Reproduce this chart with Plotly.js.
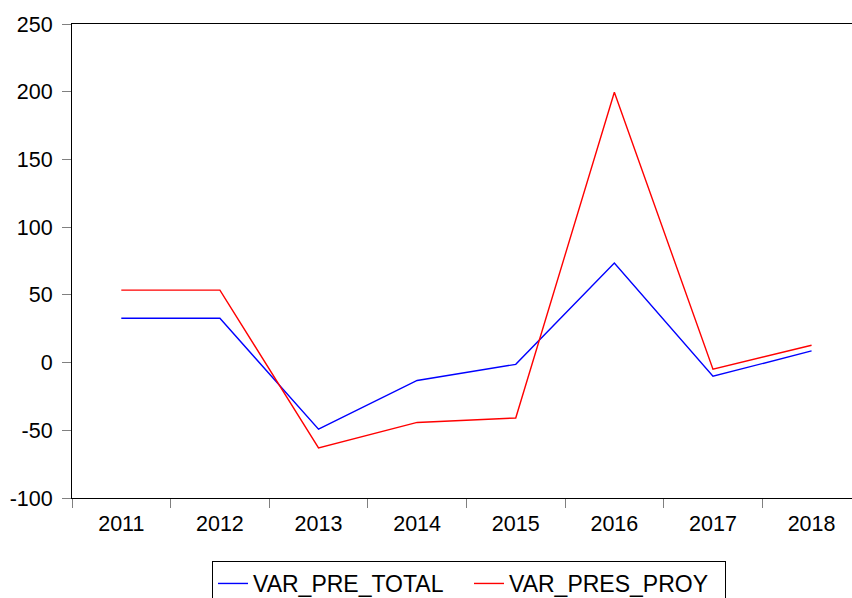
<!DOCTYPE html>
<html>
<head>
<meta charset="utf-8">
<script src="https://cdn.plot.ly/plotly-3.0.1.min.js"></script>
<style>html,body{margin:0;padding:0;background:#fff;}#chart{width:852px;height:598px;}</style>
</head>
<body>
<div id="chart"></div>
<script>
const years = ["2011","2012","2013","2014","2015","2016","2017","2018"];
const varPreTotal = [32.7, 32.7, -49.2, -13.2, -1.3, 73.5, -10.1, 8.6];
const varPresProy = [53.5, 53.5, -63.0, -44.2, -40.9, 199.6, -4.9, 12.8];
const yTicks = [-100, -50, 0, 50, 100, 150, 200, 250];

const font = {family: "Liberation Sans, Arial, sans-serif", size: 21.5, color: "#000"};
const legendFont = {family: "Liberation Sans, Arial, sans-serif", size: 23, color: "#000"};

const traces = [
  {x: years, y: varPreTotal, type: "scatter", mode: "lines", name: "VAR_PRE_TOTAL",
   line: {color: "#0000ff", width: 1.4}},
  {x: years, y: varPresProy, type: "scatter", mode: "lines", name: "VAR_PRES_PROY",
   line: {color: "#ff0000", width: 1.4}}
];

const layout = {
  width: 852, height: 598,
  margin: {l: 72, r: 0, t: 24, b: 100},
  paper_bgcolor: "#fff", plot_bgcolor: "#fff",
  font: font,
  showlegend: true,
  legend: {orientation: "h", xref: "container", yref: "container", x: 212/852, xanchor: "left",
           y: 1 - 561/598, yanchor: "top", bordercolor: "#000", borderwidth: 1, bgcolor: "#fff",
           font: legendFont, entrywidth: 211},
  xaxis: {type: "category", range: [-0.5, 7.41], tickson: "boundaries", ticks: "outside",
          ticklen: 9, tickcolor: "#808080", tickwidth: 1, showgrid: false, zeroline: false,
          showline: true, linecolor: "#000", linewidth: 1, mirror: true, tickfont: font,
          ticklabelstandoff: 6},
  yaxis: {range: [-100, 250], tickvals: yTicks, ticktext: yTicks.map(String), ticks: "outside",
          ticklen: 9, tickcolor: "#808080", tickwidth: 1, showgrid: false, zeroline: false,
          showline: true, linecolor: "#000", linewidth: 1, mirror: false, tickfont: font,
          ticklabelstandoff: 5}
};

Plotly.newPlot("chart", traces, layout, {displayModeBar: false, staticPlot: true});
</script>
</body>
</html>
